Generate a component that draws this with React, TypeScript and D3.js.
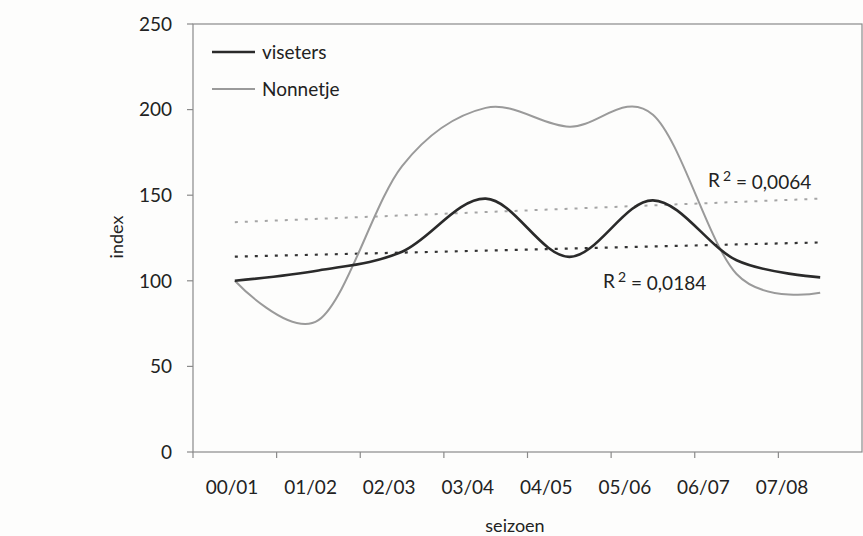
import { useRef, useEffect } from 'react';
import * as d3 from 'd3';

// seasons on the x axis
const seasons = ['00/01', '01/02', '02/03', '03/04', '04/05', '05/06', '06/07', '07/08'];

// index values per season
const viseters = [100, 106, 117, 148, 114, 147, 112, 102];
const nonnetje = [100, 77, 167, 201, 190, 197, 104, 93];

const yTicks = [0, 50, 100, 150, 200, 250];

const seriesNames = ['viseters', 'Nonnetje'];
const r2Labels = ['0,0184', '0,0064'];

// simple least squares, like the Excel trendline
function linearFit(values: number[]) {
    const xs = values.map((_, i) => i + 1);
    const mx = d3.mean(xs) as number;
    const my = d3.mean(values) as number;
    let sxy = 0, sxx = 0;
    xs.forEach((x, i) => {
        sxy += (x - mx) * (values[i] - my);
        sxx += (x - mx) * (x - mx);
    });
    const slope = sxy / sxx;
    return values.map((_, i) => my + slope * (i + 1 - mx));
}

export default function App() {

    const svgRef = useRef<SVGSVGElement>(null);

    useEffect(() => {
        const width = 863;
        const height = 536;
        const left = 193, right = 862, top = 24, bottom = 452;
        const font = 'Lato, "Open Sans", sans-serif';

        if (!svgRef.current) return;
        const svg = d3.select(svgRef.current)
            .attr('width', width)
            .attr('height', height)
            .attr('viewBox', [0, 0, width, height]);

        svg.selectAll('*').remove();

        svg.append('rect')
            .attr('width', width)
            .attr('height', height)
            .attr('fill', '#fdfdfc');

        const x = d3.scaleBand<string>().domain(seasons).range([left, right]);
        // the printed labels sit a bit tighter than the bands
        const xLabel = d3.scalePoint<string>().domain(seasons).range([232, 782]);
        const y = d3.scaleLinear().domain([0, 250]).range([bottom, top]);
        const cx = (s: string) => (x(s) as number) + x.bandwidth() / 2;

        // plot frame
        svg.append('rect')
            .attr('x', left)
            .attr('y', top)
            .attr('width', right - left)
            .attr('height', bottom - top)
            .attr('fill', 'none')
            .attr('stroke', '#8a8a8a')
            .attr('stroke-width', 1.2);

        // y ticks
        const yAxis = svg.append('g');
        yTicks.forEach(t => {
            yAxis.append('line')
                .attr('x1', left - 6).attr('x2', left)
                .attr('y1', y(t)).attr('y2', y(t))
                .attr('stroke', '#8a8a8a').attr('stroke-width', 1.2);
            yAxis.append('text')
                .attr('x', 172)
                .attr('y', y(t))
                .attr('dy', '0.36em')
                .attr('text-anchor', 'end')
                .attr('font-family', font)
                .attr('font-size', '19px')
                .attr('fill', '#222')
                .text(t);
        });

        // x ticks on the band edges
        const xAxis = svg.append('g');
        seasons.forEach(s => {
            const xe = x(s) as number;
            xAxis.append('line')
                .attr('x1', xe).attr('x2', xe)
                .attr('y1', bottom).attr('y2', bottom + 6)
                .attr('stroke', '#8a8a8a').attr('stroke-width', 1.2);
            xAxis.append('text')
                .attr('x', xLabel(s) as number)
                .attr('y', 494)
                .attr('text-anchor', 'middle')
                .attr('font-family', font)
                .attr('font-size', '19px')
                .attr('fill', '#222')
                .text(s);
        });

        // axis titles
        svg.append('text')
            .attr('x', 515).attr('y', 532)
            .attr('text-anchor', 'middle')
            .attr('font-family', font)
            .attr('font-size', '18px')
            .attr('fill', '#222')
            .text('seizoen');

        svg.append('text')
            .attr('transform', 'translate(123,237) rotate(-90)')
            .attr('text-anchor', 'middle')
            .attr('font-family', font)
            .attr('font-size', '18px')
            .attr('fill', '#222')
            .text('index');

        const line = d3.line<number>()
            .x((_, i) => cx(seasons[i]))
            .y(d => y(d))
            .curve(d3.curveCatmullRom.alpha(0));

        const straight = d3.line<number>()
            .x((_, i) => cx(seasons[i]))
            .y(d => y(d));

        // trendlines (dotted)
        svg.append('path')
            .attr('d', straight(linearFit(nonnetje)))
            .attr('fill', 'none')
            .attr('stroke', '#a5a5a5')
            .attr('stroke-width', 2)
            .attr('stroke-dasharray', '3 7');

        svg.append('path')
            .attr('d', straight(linearFit(viseters)))
            .attr('fill', 'none')
            .attr('stroke', '#333')
            .attr('stroke-width', 2.2)
            .attr('stroke-dasharray', '3 7');

        // series
        svg.append('path')
            .attr('d', line(nonnetje))
            .attr('fill', 'none')
            .attr('stroke', '#9a9a9a')
            .attr('stroke-width', 2);

        svg.append('path')
            .attr('d', line(viseters))
            .attr('fill', 'none')
            .attr('stroke', '#2a2a2a')
            .attr('stroke-width', 2.6);

        // R² labels
        const r2Pos = [[603, 288], [708, 187]];
        r2Labels.forEach((lab, i) => {
            const t = svg.append('text')
                .attr('x', r2Pos[i][0]).attr('y', r2Pos[i][1])
                .attr('font-family', font)
                .attr('font-size', '19px')
                .attr('fill', '#222');
            t.append('tspan').text('R');
            t.append('tspan').attr('dy', '-0.45em').attr('font-size', '14px').attr('dx', '3').text('2');
            t.append('tspan').attr('dy', '0.45em').text(` = ${lab}`);
        });

        // legend
        const legendColors = ['#2a2a2a', '#9a9a9a'];
        const legendWidths = [2.4, 1.8];
        seriesNames.forEach((name, i) => {
            const ly = 52 + i * 37;
            svg.append('line')
                .attr('x1', 212).attr('x2', 255)
                .attr('y1', ly).attr('y2', ly)
                .attr('stroke', legendColors[i])
                .attr('stroke-width', legendWidths[i]);
            svg.append('text')
                .attr('x', 262).attr('y', ly)
                .attr('dy', '0.36em')
                .attr('font-family', font)
                .attr('font-size', '19px')
                .attr('fill', '#222')
                .text(name);
        });
    }, []);

    return (
        <div style={{ position: 'absolute', left: 0, top: 0 }}>
            <svg ref={svgRef} style={{ display: 'block' }} />
        </div>
    );
}
